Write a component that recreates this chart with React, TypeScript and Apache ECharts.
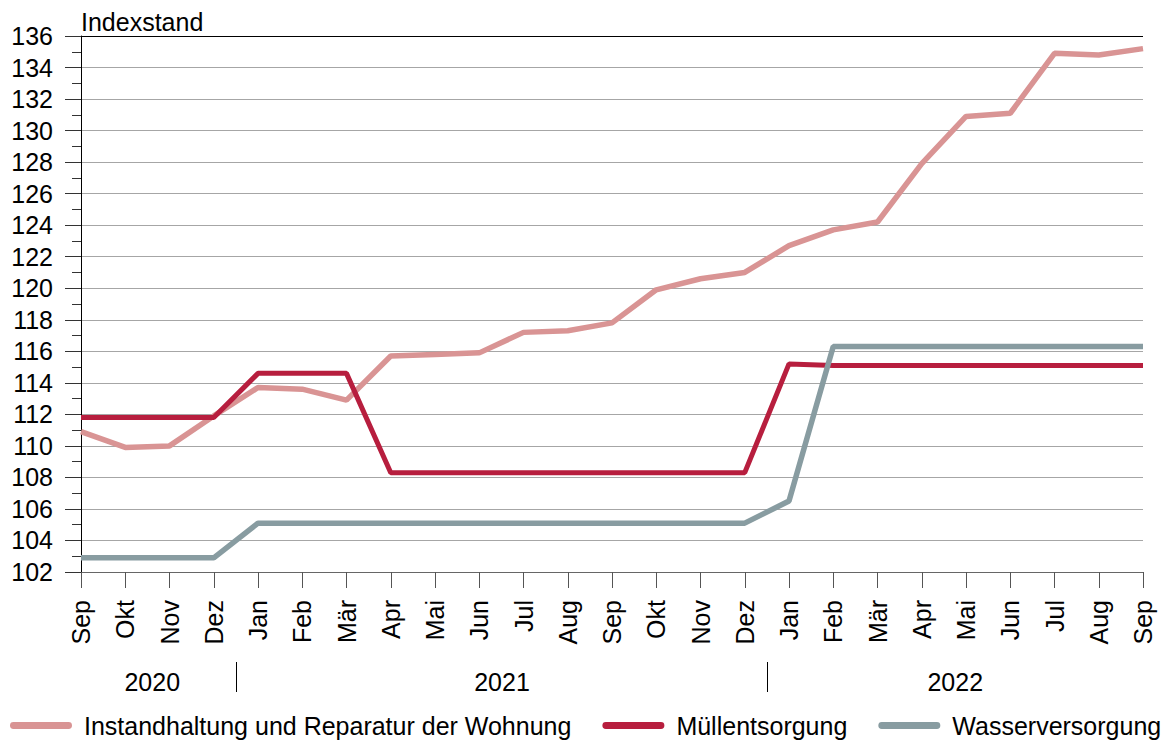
import React, { useEffect, useRef } from "react";
import * as echarts from "echarts";

const months = ["Sep","Okt","Nov","Dez","Jan","Feb","Mär","Apr","Mai","Jun","Jul","Aug","Sep","Okt","Nov","Dez","Jan","Feb","Mär","Apr","Mai","Jun","Jul","Aug","Sep"];
const instandhaltung = [110.9,109.9,110.0,111.9,113.7,113.6,112.9,115.7,115.8,115.9,117.2,117.3,117.8,119.9,120.6,121.0,122.7,123.7,124.2,127.9,130.9,131.1,134.9,134.8,135.2];
const muell = [111.8,111.8,111.8,111.8,114.6,114.6,114.6,108.3,108.3,108.3,108.3,108.3,108.3,108.3,108.3,108.3,115.2,115.1,115.1,115.1,115.1,115.1,115.1,115.1,115.1];
const wasser = [102.9,102.9,102.9,102.9,105.1,105.1,105.1,105.1,105.1,105.1,105.1,105.1,105.1,105.1,105.1,105.1,106.5,116.3,116.3,116.3,116.3,116.3,116.3,116.3,116.3];
const years = [
  { label: "2020", from: 0, to: 3 },
  { label: "2021", from: 4, to: 15 },
  { label: "2022", from: 16, to: 24 },
];
const seriesNames = ["Instandhaltung und Reparatur der Wohnung", "Müllentsorgung", "Wasserversorgung"];
const colors = ["#d99494", "#b71e3e", "#889ca1"];

const FONT = "Liberation Sans, Arial, sans-serif";
const FS = 25;

export default function App() {
  const ref = useRef<HTMLDivElement>(null);
  useEffect(() => {
    document.body.style.margin = "0";
    const chart = echarts.init(ref.current!, null, { renderer: "svg" });
    const splitColors: string[] = [];
    for (let i = 0; i < 18; i++) splitColors.push(i === 17 ? "#000000" : "#a6a6a6");
    const capsule = "path://M3.5,0 L59.5,0 A3.5,3.5 0 0 1 59.5,7 L3.5,7 A3.5,3.5 0 0 1 3.5,0 Z";
    const option: any = {
      animation: false,
      textStyle: { fontFamily: FONT },
      grid: { left: 81, right: 23, top: 36, bottom: 170, containLabel: false },
      legend: {
        left: 10,
        top: 713,
        width: 1156,
        padding: 0,
        itemWidth: 62,
        itemHeight: 7,
        itemGap: 31,
        icon: capsule,
        textStyle: { fontSize: FS, color: "#000", fontFamily: FONT, padding: [0, 0, 0, 7] },
        data: seriesNames,
      },
      xAxis: {
        type: "category",
        data: months,
        boundaryGap: false,
        axisLine: { show: true, lineStyle: { color: "#666", width: 1 } },
        axisTick: { show: true, length: 16, interval: 0, lineStyle: { color: "#555" } },
        axisLabel: { rotate: 90, interval: 0, fontSize: FS, color: "#000", margin: 28, fontFamily: FONT },
        splitLine: { show: false },
      },
      yAxis: {
        type: "value",
        min: 102,
        max: 136,
        interval: 2,
        name: "Indexstand",
        nameLocation: "end",
        nameGap: 2,
        nameTextStyle: { fontSize: FS, color: "#000", align: "left", fontFamily: FONT },
        axisLine: { show: true, lineStyle: { color: "#000", width: 1 } },
        axisTick: { show: true, length: 16, lineStyle: { color: "#333" } },
        minorTick: { show: true, splitNumber: 2, length: 9, lineStyle: { color: "#333" } },
        axisLabel: { fontSize: FS, color: "#000", margin: 28, fontFamily: FONT },
        splitLine: { show: true, lineStyle: { color: splitColors, width: 1 } },
      },
      series: [
        { name: seriesNames[0], type: "line", data: instandhaltung, symbol: "none", color: colors[0], lineStyle: { width: 5.5, color: colors[0] }, z: 2 },
        { name: seriesNames[1], type: "line", data: muell, symbol: "none", color: colors[1], lineStyle: { width: 5, color: colors[1] }, z: 3 },
        { name: seriesNames[2], type: "line", data: wasser, symbol: "none", color: colors[2], lineStyle: { width: 5.5, color: colors[2] }, z: 4 },
      ],
    };
    chart.setOption(option);
    const px = (i: number) => chart.convertToPixel({ xAxisIndex: 0 }, i) as number;
    const graphics: any[] = [];
    const seps: number[] = [];
    for (let k = 0; k < years.length - 1; k++) {
      seps.push(Math.round((px(years[k].to) + px(years[k + 1].from)) / 2) + 0.5);
    }
    const bounds = [px(0) - 13, ...seps, px(months.length - 1)];
    years.forEach((y, k) => {
      const cx = (bounds[k] + bounds[k + 1]) / 2;
      graphics.push({
        type: "text",
        x: cx,
        y: 682,
        style: { text: y.label, fontSize: FS, fill: "#000", align: "center", verticalAlign: "middle", fontFamily: FONT },
      });
    });
    seps.forEach((sx) => {
      graphics.push({ type: "line", shape: { x1: sx, y1: 662, x2: sx, y2: 692 }, style: { stroke: "#000", lineWidth: 1 } });
    });
    chart.setOption({ graphic: graphics });
    return () => chart.dispose();
  }, []);
  return <div ref={ref} style={{ width: 1166, height: 742 }} />;
}
